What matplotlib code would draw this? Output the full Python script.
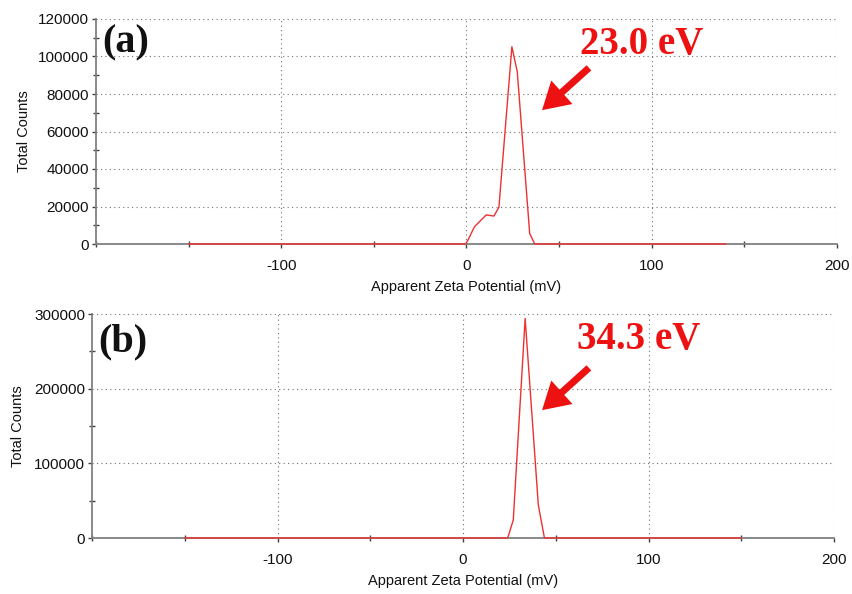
import matplotlib
matplotlib.use("Agg")
import matplotlib.pyplot as plt
from matplotlib.ticker import MultipleLocator

# zeta potential distributions
a_x = [-150, -0.5, 0.8, 4.3, 10.6, 14.8, 17.5, 24.5, 27.4, 34.1, 36.8, 140]
a_y = [0, 0, 2100, 9200, 15500, 14900, 19600, 105200, 91900, 5700, 0, 0]

b_x = [-150, 24.1, 27.1, 33.5, 40.6, 43.9, 150]
b_y = [0, 0, 24100, 294000, 44200, 0, 0]

panels = ["(a)", "(b)"]
peaks = ["23.0 eV", "34.3 eV"]
ylims = [120000, 300000]
ymajor = [20000, 100000]
yminor = [10000, 50000]

RED = "#ee3030"
GRAY = "#808080"

plt.rcParams["font.family"] = ["Liberation Sans", "DejaVu Sans"]
plt.rcParams["axes.unicode_minus"] = False

fig = plt.figure(figsize=(8.52, 5.94), dpi=100)
ax1 = fig.add_axes([96 / 852, 1 - 244 / 594, (837 - 96) / 852, (244 - 19) / 594])
ax2 = fig.add_axes([92 / 852, 1 - 538 / 594, (834 - 92) / 852, (538 - 314) / 594])

for i, (ax, xs, ys) in enumerate([(ax1, a_x, a_y), (ax2, b_x, b_y)]):
    ax.plot(xs, ys, color=RED, lw=1.0, zorder=3, clip_on=False)
    ax.set_xlim(-200, 200)
    ax.set_ylim(0, ylims[i])
    ax.xaxis.set_major_locator(MultipleLocator(100))
    ax.xaxis.set_minor_locator(MultipleLocator(50))
    ax.yaxis.set_major_locator(MultipleLocator(ymajor[i]))
    ax.yaxis.set_minor_locator(MultipleLocator(yminor[i]))
    ax.set_xticks([-100, 0, 100, 200])
    ax.grid(True, which="major", linestyle=(0, (1, 3)), color="#707070", lw=0.8)
    for s in ("top", "right"):
        ax.spines[s].set_visible(False)
    for s in ("left", "bottom"):
        ax.spines[s].set_color(GRAY)
        ax.spines[s].set_linewidth(1.3)
    ax.tick_params(which="major", length=3, width=1, color="#404040", pad=2,
                   labelsize=11, labelcolor="#111111", direction="out")
    ax.tick_params(axis="x", which="major", pad=8)
    ax.tick_params(which="minor", length=4, width=1, color="#404040", direction="inout")
    ax.set_xlabel("Apparent Zeta Potential (mV)", fontsize=10.5, labelpad=5, color="#111111")
    ax.set_ylabel("Total Counts", fontsize=10.5, color="#111111")

    ax.text(0.009, 0.975 - 0.015 * i, panels[i], transform=ax.transAxes, ha="left", va="top",
            fontsize=29, fontweight="bold", family="Liberation Serif", color="#111111")
    ax.text(0.653, 0.97, peaks[i], transform=ax.transAxes, ha="left", va="top",
            fontsize=28, fontweight="bold", family="Liberation Serif", color="#ee1111")

ax1.yaxis.set_label_coords(-0.088, 0.5)
ax2.yaxis.set_label_coords(-0.09, 0.5)

# red arrows pointing at the peaks (figure pixel coords -> fraction)
for y0 in (0, 300):
    fig.patches.append(matplotlib.patches.FancyArrowPatch(
        (591 / 852, 1 - (66 + y0) / 594), (540 / 852, 1 - (112 + y0) / 594),
        transform=fig.transFigure, arrowstyle="simple,head_width=1.9,head_length=1.6,tail_width=0.42",
        mutation_scale=12, color="#ee1111", lw=0))

fig.savefig("out.png", dpi=100)
